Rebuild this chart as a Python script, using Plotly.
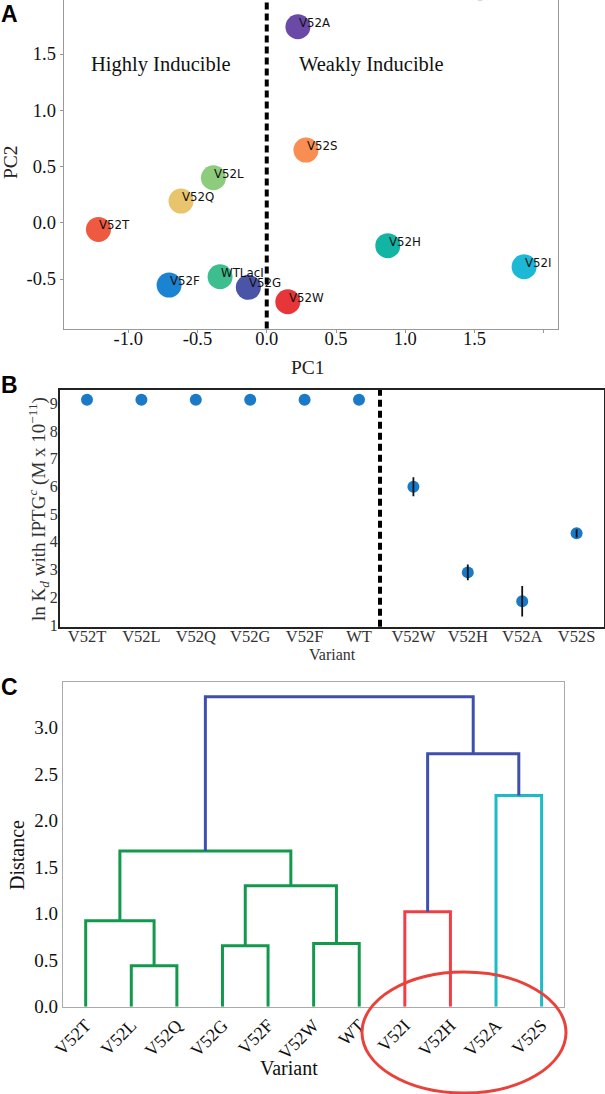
import plotly.graph_objects as go

W, H = 605, 1094

# ---------------- Panel A data ----------------
pca_labels = ["V52A", "V52S", "V52L", "V52Q", "V52T", "V52H", "V52I", "V52F", "WTLacI", "V52G", "V52W"]
pc1 = [0.225, 0.283, -0.385, -0.619, -1.215, 0.874, 1.858, -0.705, -0.337, -0.133, 0.152]
pc2 = [1.742, 0.646, 0.40, 0.193, -0.059, -0.204, -0.391, -0.554, -0.48, -0.574, -0.702]
pca_colors = ["#6a4aa6", "#f98e52", "#8ccc7c", "#e8c46c", "#ee5a40", "#12b4a4",
              "#1cb8d6", "#1a84d2", "#3cbe8e", "#4a55a8", "#e6363a"]
clipped_pc1 = [1.54]
clipped_pc2 = [2.088]
a_xticks = [-1.0, -0.5, 0.0, 0.5, 1.0, 1.5, 2.0]
a_xticktext = ["-1.0", "-0.5", "0.0", "0.5", "1.0", "1.5", ""]
a_yticks = [-0.5, 0.0, 0.5, 1.0, 1.5]
a_yticktext = ["-0.5", "0.0", "0.5", "1.0", "1.5"]

# ---------------- Panel B data ----------------
variants_b = ["V52T", "V52L", "V52Q", "V52G", "V52F", "WT", "V52W", "V52H", "V52A", "V52S"]
ln_kd = [9.13, 9.13, 9.13, 9.13, 9.13, 9.13, 5.99, 2.90, 1.86, 4.31]
ln_kd_err = [0, 0, 0, 0, 0, 0, 0.34, 0.28, 0.55, 0.15]
b_yticks = [1, 2, 3, 4, 5, 6, 7, 8, 9]

# ---------------- Panel C data ----------------
leaves = ["V52T", "V52L", "V52Q", "V52G", "V52F", "V52W", "WT", "V52I", "V52H", "V52A", "V52S"]
merge_left = [1, 0, 3, 5, 13, 12, 7, 9, 17, 16]
merge_right = [2, 11, 4, 6, 14, 15, 8, 10, 18, 19]
merge_height = [0.44, 0.925, 0.656, 0.68, 1.30, 1.674, 1.02, 2.27, 2.72, 3.333]
merge_color = ["#13994c"] * 6 + ["#ef3e44", "#1cbcc6", "#3f4fae", "#3f4fae"]
c_yticks = [0.0, 0.5, 1.0, 1.5, 2.0, 2.5, 3.0]

SERIF = "Liberation Serif"
SANS = "DejaVu Sans"
BOLD = "Liberation Sans"


def px_x(p):
    return p / W


def px_y(p):
    return 1 - p / H


fig = go.Figure()

# ---- Panel A ----
fig.add_trace(go.Scatter(
    x=pc1, y=pc2, mode="markers", xaxis="x", yaxis="y",
    marker=dict(size=25, color=pca_colors, line=dict(width=0)),
    showlegend=False, hoverinfo="text", text=pca_labels))
fig.add_trace(go.Scatter(
    x=clipped_pc1, y=clipped_pc2, mode="markers", xaxis="x", yaxis="y",
    marker=dict(size=25, color="#8a4ab0", line=dict(width=0)),
    showlegend=False, hoverinfo="skip"))

annotations = []
for lab, xv, yv in zip(pca_labels, pc1, pc2):
    annotations.append(dict(x=xv, y=yv, xref="x", yref="y", text=lab, showarrow=False,
                            xanchor="left", yanchor="middle", yshift=4, xshift=-1,
                            font=dict(family=SANS, size=11.8, color="#111")))


def paper_note(px, py, text, size, family=SERIF, color="#222", angle=0):
    return dict(x=px_x(px), y=px_y(py), xref="paper", yref="paper", text=text,
                showarrow=False, xanchor="center", yanchor="middle", textangle=angle,
                font=dict(family=family, size=size, color=color))


# ---- Panel B ----
fig.add_trace(go.Scatter(
    x=variants_b, y=ln_kd, mode="markers", xaxis="x2", yaxis="y2",
    marker=dict(size=12, color="#1a7ac8"), showlegend=False))
fig.add_trace(go.Scatter(
    x=variants_b, y=ln_kd, mode="markers", xaxis="x2", yaxis="y2",
    marker=dict(size=12, color="rgba(0,0,0,0)"),
    error_y=dict(type="data", array=ln_kd_err, visible=True, color="#111", thickness=1.8, width=0),
    showlegend=False, hoverinfo="skip"))

# ---- Panel C (dendrogram) ----
xpos = {i: 5 + 10 * i for i in range(len(leaves))}
ypos = {i: 0.0 for i in range(len(leaves))}
segs = {}
for k, (l, r, h, c) in enumerate(zip(merge_left, merge_right, merge_height, merge_color)):
    nid = len(leaves) + k
    xs = [xpos[l], xpos[l], xpos[r], xpos[r], None]
    ys = [ypos[l], h, h, ypos[r], None]
    segs.setdefault(c, ([], []))
    segs[c][0].extend(xs)
    segs[c][1].extend(ys)
    xpos[nid] = (xpos[l] + xpos[r]) / 2
    ypos[nid] = h
for c, (xs, ys) in segs.items():
    fig.add_trace(go.Scatter(x=xs, y=ys, mode="lines", xaxis="x3", yaxis="y3",
                             line=dict(color=c, width=3), showlegend=False, hoverinfo="skip"))

# Axis titles / panel labels / region labels
annotations += [
    paper_note(161.4, 64, "Highly Inducible", 20.5, color="#111"),
    paper_note(371.5, 64, "Weakly Inducible", 20.5, color="#111"),
    paper_note(308, 367, "PC1", 19.5),
    paper_note(10, 162, "PC2", 19.5, angle=-90),
    paper_note(38, 509, "ln K<sub><i>d</i></sub> with IPTG<sup><i>c</i></sup> (M x 10<sup>\u221211</sup>)",
               19, angle=-90, color="#333"),
    paper_note(332, 654, "Variant", 16, color="#333"),
    paper_note(17, 855, "Distance", 20, color="#111", angle=-90),
    paper_note(289, 1068, "Variant", 20, color="#111"),
    paper_note(9, 14, "<b>A</b>", 23, family=BOLD, color="#000"),
    paper_note(9, 385, "<b>B</b>", 23, family=BOLD, color="#000"),
    paper_note(9, 687, "<b>C</b>", 23, family=BOLD, color="#000"),
]

shapes = [
    dict(type="line", xref="x", yref="y domain", x0=0, x1=0, y0=0, y1=1,
         line=dict(color="#000", width=4, dash="7px,4px")),
    dict(type="line", xref="x2", yref="y2 domain", x0=5.386, x1=5.386, y0=0, y1=1,
         line=dict(color="#000", width=4, dash="7px,4px")),
    dict(type="circle", xref="paper", yref="paper",
         x0=px_x(362), x1=px_x(566), y0=px_y(1093), y1=px_y(972),
         line=dict(color="#e8423a", width=3)),
]

common = dict(showgrid=False, zeroline=False, showline=True, mirror=True, automargin=False)

fig.update_layout(
    width=W, height=H, margin=dict(l=0, r=0, t=0, b=0, pad=0, autoexpand=False),
    paper_bgcolor="white", plot_bgcolor="white", showlegend=False,
    annotations=annotations, shapes=shapes,
    xaxis=dict(domain=[px_x(63.7), px_x(558.3)], range=[-1.466, 2.105], tickvals=a_xticks,
               ticktext=a_xticktext, linecolor="#999", linewidth=1.2, ticks="outside",
               ticklen=3, tickcolor="#999", ticklabelstandoff=-10,
               tickfont=dict(family=SERIF, size=18.5, color="#111"), anchor="y", **common),
    yaxis=dict(domain=[px_y(328.5), 1.0], range=[-0.94, 1.98], tickvals=a_yticks,
               ticktext=a_yticktext, linecolor="#999", linewidth=1.2, ticks="outside",
               ticklen=3, tickcolor="#999",
               tickfont=dict(family=SERIF, size=18.5, color="#111"), anchor="x", **common),
    xaxis2=dict(domain=[px_x(59.8), px_x(603.8)], range=[-0.5, 9.5], type="category",
                linecolor="#222", linewidth=1.5, ticks="", ticklabelstandoff=-6,
                tickfont=dict(family=SERIF, size=16.5, color="#333"), anchor="y2", **common),
    yaxis2=dict(domain=[px_y(626.7), px_y(390)], range=[0.94, 9.48], tickvals=b_yticks,
                linecolor="#222", linewidth=1.5, ticks="", ticklabelstandoff=-3,
                tickfont=dict(family=SERIF, size=16, color="#333"), anchor="x2", **common),
    xaxis3=dict(domain=[px_x(62.9), px_x(564.4)], range=[0, 110],
                tickvals=[5 + 10 * i for i in range(len(leaves))], ticktext=leaves,
                tickangle=-45, linecolor="#aaa", linewidth=1.2, ticks="",
                tickfont=dict(family=SERIF, size=18, color="#111"), anchor="y3", **common),
    yaxis3=dict(domain=[px_y(1006.7), px_y(681.7)], range=[0, 3.495], tickvals=c_yticks,
                tickformat=".1f", linecolor="#aaa", linewidth=1.2, ticks="",
                tickfont=dict(family=SERIF, size=19, color="#111"), anchor="x3", **common),
)

fig.write_html("out.html", config={"displayModeBar": False},
               post_script="document.body.style.margin='0px';")
